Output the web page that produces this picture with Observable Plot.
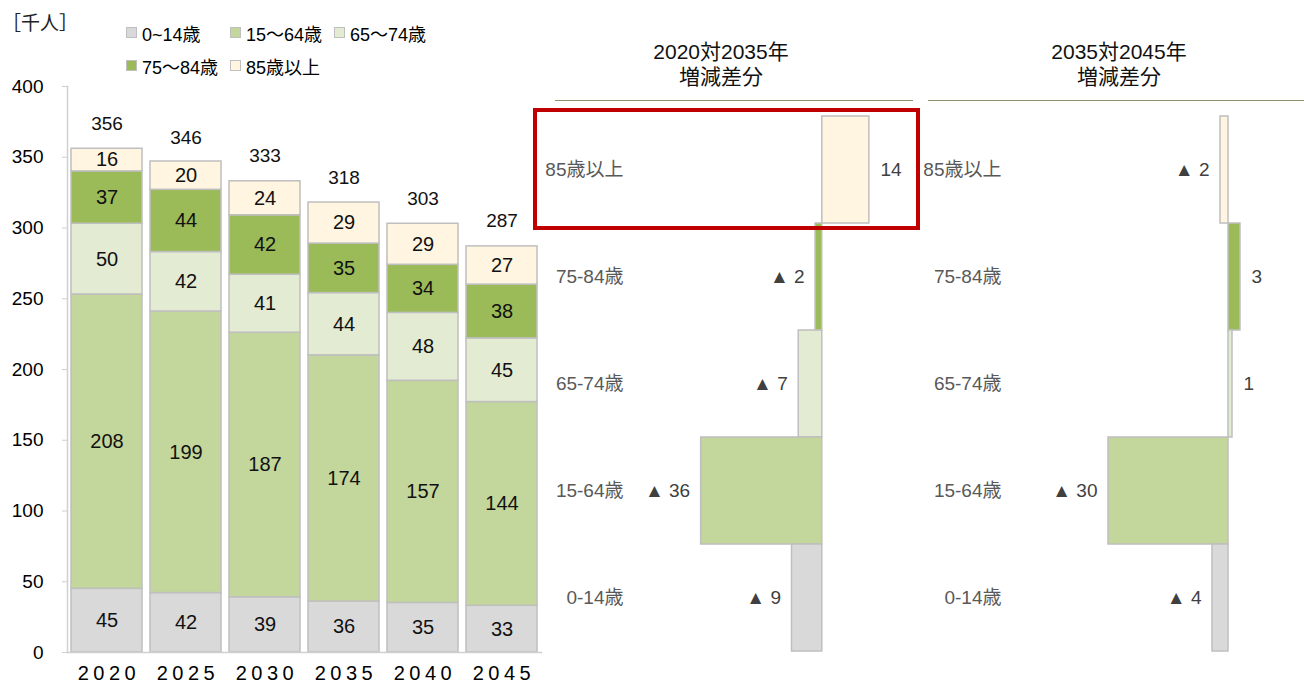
<!DOCTYPE html>
<html><head><meta charset="utf-8">
<script src="https://cdn.jsdelivr.net/npm/d3@7"></script>
<script src="https://cdn.jsdelivr.net/npm/@observablehq/plot@0.6"></script>
<style>
html,body{margin:0;padding:0;background:#fff;}
#root{position:relative;width:1304px;height:684px;overflow:hidden;font-family:"Liberation Sans",Arial,"Noto Sans CJK JP",sans-serif;color:#000;}
.abs{position:absolute;}
.unit{left:2px;top:12px;font-size:19px;line-height:24px;color:#222;}
.legend{left:126px;top:16px;width:320px;display:flex;flex-wrap:wrap;}
.legend .item{width:104px;height:33px;display:flex;align-items:center;font-size:18px;white-space:nowrap;}
.legend .sw{width:9px;height:9px;border:1px solid #bfbfbf;margin-right:5px;flex:none;}
.ptitle{font-size:21px;line-height:25px;text-align:center;color:#111;width:240px;}
.sep{height:0;border-top:1.5px solid #8c9070;}
.redbox{left:533px;top:108px;width:387px;height:122px;border:4px solid #c00000;box-sizing:border-box;pointer-events:none;}
.leftchart g[aria-label="x-axis tick label"] text{letter-spacing:4.5px;}
</style></head><body><div id="root"></div>
<script>
const FONT = '"Liberation Sans", Arial, "Noto Sans CJK JP", sans-serif';

// ---- data ----
const years = ["2020", "2025", "2030", "2035", "2040", "2045"];
const groups = ["0~14歳", "15～64歳", "65～74歳", "75～84歳", "85歳以上"];
const v0_14 = [45, 42, 39, 36, 35, 33];
const v15_64 = [208, 199, 187, 174, 157, 144];
const v65_74 = [50, 42, 41, 44, 48, 45];
const v75_84 = [37, 44, 42, 35, 34, 38];
const v85 = [16, 20, 24, 29, 29, 27];
const totals = [356, 346, 333, 318, 303, 287];
const groupColors = ["#d9d9d9", "#c3d69b", "#e3ebd3", "#9bbb59", "#fff5e0"];

const diffCats = ["85歳以上", "75-84歳", "65-74歳", "15-64歳", "0-14歳"];
const diffColors = ["#fff5e0", "#9bbb59", "#e3ebd3", "#c3d69b", "#d9d9d9"];
const diff2020_2035 = [14, -2, -7, -36, -9];
const diff2035_2045 = [-2, 3, 1, -30, -4];
const panelTitles = [["2020対2035年", "増減差分"], ["2035対2045年", "増減差分"]];
const unitLabel = "［千人］";

// ---- build ----
const root = document.getElementById("root");
const series = [v0_14, v15_64, v65_74, v75_84, v85];
const stacked = [];
years.forEach((y, i) => groups.forEach((g, j) => stacked.push({year: y, group: g, value: series[j][i]})));
const totalRows = years.map((y, i) => ({year: y, total: totals[i]}));

function place(el, left, top) {
  el.style.position = "absolute"; el.style.left = left + "px"; el.style.top = top + "px";
  root.appendChild(el); return el;
}

const left = Plot.plot({
  className: "leftchart",
  width: 545, height: 684,
  marginLeft: 67, marginRight: 3, marginTop: 86, marginBottom: 32,
  style: {fontFamily: FONT, fontSize: "19px", color: "#000", background: "transparent", overflow: "visible"},
  x: {domain: years, paddingInner: 0.1, paddingOuter: 0.05, label: null},
  y: {domain: [0, 400], label: null},
  color: {domain: groups, range: groupColors},
  marks: [
    Plot.frame({anchor: "left", stroke: "#d0d0d0", strokeWidth: 1.5}),
    Plot.axisY({ticks: d3.ticks(0, 400, 8), tickSize: 5, tickPadding: 19, stroke: "#d0d0d0", fontSize: 19, label: null}),
    Plot.axisX({tickSize: 0, tickPadding: 13, fontSize: 20, dx: 2, label: null}),
    Plot.barY(stacked, {x: "year", y: "value", fill: "group", stroke: "#bfbfbf", strokeWidth: 1.5}),
    Plot.ruleY([0], {stroke: "#d0d0d0", strokeWidth: 1.5}),
    Plot.text(stacked, Plot.stackY({x: "year", y: "value", text: "value", fontSize: 20, fill: "#111"})),
    Plot.text(totalRows, {x: "year", y: "total", text: "total", dy: -25, fontSize: 19, fill: "#111"})
  ]
});
place(left, 0, 0);

function panel(diffs, width, marginLeft, domain) {
  const rows = diffCats.map((c, i) => ({cat: c, v: diffs[i]}));
  const fmt = v => v < 0 ? `▲ ${-v}` : `${v}`;
  return Plot.plot({
    width, height: 684, marginLeft, marginRight: 4, marginTop: 115, marginBottom: 32,
    style: {fontFamily: FONT, fontSize: "19px", color: "#595959", background: "transparent", overflow: "visible"},
    x: {domain, axis: null},
    y: {domain: diffCats, padding: 0, label: null},
    color: {domain: diffCats, range: diffColors},
    marks: [
      Plot.axisY({tickSize: 0, tickPadding: 7, fontSize: 19, label: null}),
      Plot.barX(rows, {x1: () => 0, x2: "v", y: "cat", fill: "cat", stroke: "#bfbfbf", strokeWidth: 1.5}),
      Plot.text(rows.filter(d => d.v < 0), {x: "v", y: "cat", text: d => fmt(d.v), textAnchor: "end", dx: -11, fontSize: 19, fill: "#404040"}),
      Plot.text(rows.filter(d => d.v >= 0), {x: "v", y: "cat", text: d => fmt(d.v), textAnchor: "start", dx: 11, fontSize: 19, fill: "#404040"})
    ]
  });
}
place(panel(diff2020_2035, 390, 100, [-57, 28]), 530, 0);
place(panel(diff2035_2045, 384, 88, [-55, 18]), 920, 0);

// titles & separators
const titlePos = [{cx: 721, lineL: 555, lineW: 358}, {cx: 1119, lineL: 928, lineW: 376}];
panelTitles.forEach((t, i) => {
  const d = document.createElement("div");
  d.className = "ptitle";
  d.innerHTML = t.join("<br>");
  place(d, titlePos[i].cx - 120, 39);
  const s = document.createElement("div");
  s.className = "sep";
  s.style.width = titlePos[i].lineW + "px";
  place(s, titlePos[i].lineL, 100);
});

// unit label
const u = document.createElement("div");
u.className = "abs unit"; u.textContent = unitLabel; root.appendChild(u);

// legend
const lg = document.createElement("div");
lg.className = "abs legend";
groups.forEach((g, i) => {
  const it = document.createElement("div"); it.className = "item";
  const sw = document.createElement("span"); sw.className = "sw"; sw.style.background = groupColors[i];
  const tx = document.createElement("span"); tx.textContent = g;
  it.appendChild(sw); it.appendChild(tx); lg.appendChild(it);
});
root.appendChild(lg);

// highlight box
const rb = document.createElement("div");
rb.className = "abs redbox"; root.appendChild(rb);
</script></body></html>
